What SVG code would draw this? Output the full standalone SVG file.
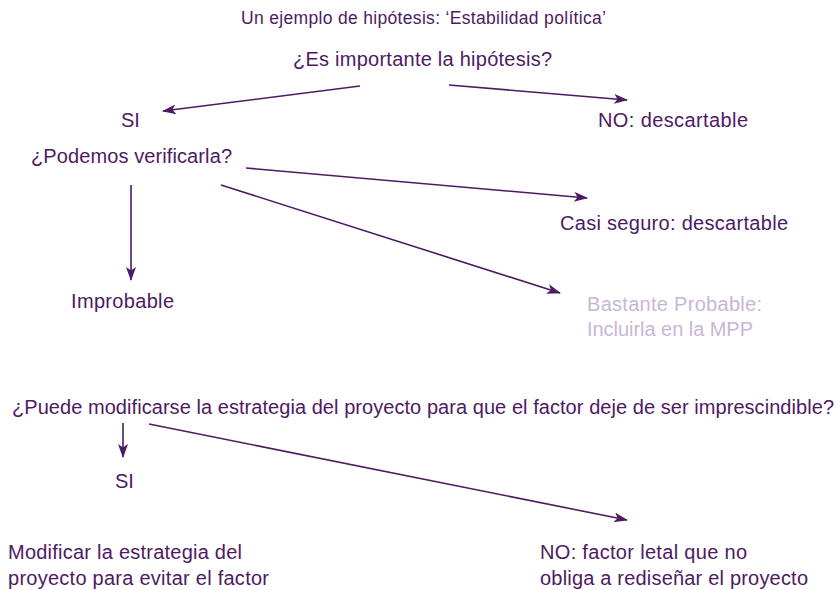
<svg xmlns="http://www.w3.org/2000/svg" width="838" height="590" viewBox="0 0 838 590">
<style>
text{font-family:"Liberation Sans",Arial,sans-serif;fill:#4e1a63;font-size:20px}
.t{font-size:17.5px}
.l{fill:#c9b6d6}
.c line{stroke:#4e1a63;stroke-width:1.6;fill:none}
</style>
<defs>
<marker id="a" viewBox="0 0 14 10" refX="13" refY="5" markerWidth="14" markerHeight="10" markerUnits="userSpaceOnUse" orient="auto">
<path d="M0,0 L14,5 L0,10 L3.5,5 Z" fill="#4e1a63"/>
</marker>
</defs>
<rect width="838" height="590" fill="#fff"/>
<g id="title"><text class="t" x="241" y="24" textLength="365" lengthAdjust="spacing">Un ejemplo de hipótesis: ‘Estabilidad política’</text></g>
<g id="q1"><text x="293" y="66" textLength="259" lengthAdjust="spacing">¿Es importante la hipótesis?</text></g>
<g id="si1"><text x="121" y="127">SI</text></g>
<g id="no1"><text x="598" y="127" textLength="150" lengthAdjust="spacing">NO: descartable</text></g>
<g id="q2"><text x="31" y="163" textLength="201" lengthAdjust="spacing">¿Podemos verificarla?</text></g>
<g id="casi"><text x="560" y="230" textLength="228" lengthAdjust="spacing">Casi seguro: descartable</text></g>
<g id="improbable"><text x="71" y="308" textLength="103" lengthAdjust="spacing">Improbable</text></g>
<g id="bastante"><text class="l" x="587" y="311" textLength="175" lengthAdjust="spacing">Bastante Probable:</text><text class="l" x="587" y="336" textLength="166" lengthAdjust="spacing">Incluirla en la MPP</text></g>
<g id="q3"><text x="12" y="414" textLength="822" lengthAdjust="spacing">¿Puede modificarse la estrategia del proyecto para que el factor deje de ser imprescindible?</text></g>
<g id="si2"><text x="115" y="488">SI</text></g>
<g id="modificar"><text x="8" y="559" textLength="234" lengthAdjust="spacing">Modificar la estrategia del</text><text x="8" y="585" textLength="261" lengthAdjust="spacing">proyecto para evitar el factor</text></g>
<g id="no2"><text x="540" y="559" textLength="207" lengthAdjust="spacing">NO: factor letal que no</text><text x="540" y="585" textLength="268" lengthAdjust="spacing">obliga a rediseñar el proyecto</text></g>
<g class="c" id="connectors">
<line x1="360" y1="86" x2="163" y2="111" marker-end="url(#a)"/>
<line x1="449" y1="85" x2="627" y2="100" marker-end="url(#a)"/>
<line x1="131" y1="185" x2="131" y2="280" marker-end="url(#a)"/>
<line x1="246" y1="168" x2="587" y2="198" marker-end="url(#a)"/>
<line x1="221" y1="185" x2="560" y2="293" marker-end="url(#a)"/>
<line x1="123" y1="423" x2="123" y2="457" marker-end="url(#a)"/>
<line x1="149" y1="424" x2="627" y2="520" marker-end="url(#a)"/>
</g>
</svg>
